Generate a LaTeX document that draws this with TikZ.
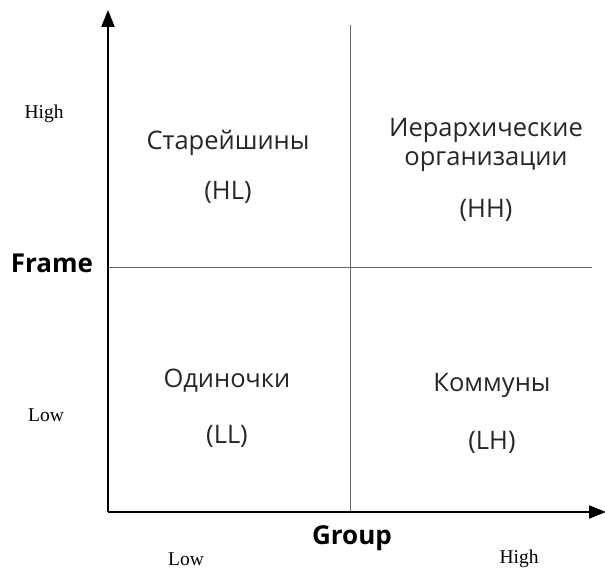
\documentclass[tikz,border=0pt]{standalone}
\usepackage{fontspec}
\usetikzlibrary{arrows.meta}
\newfontfamily\quadfont{Open Sans}
\newfontfamily\levelfont{Liberation Serif}
\begin{document}
\begin{tikzpicture}[x=1pt,y=-1pt,
  axis/.style={draw,line width=2.4pt,-{Triangle[length=17pt,width=13pt]}},
  divider/.style={draw,gray!80!black,line width=0.9pt},
  quad/.style={font=\quadfont\fontsize{25.5}{29}\selectfont,align=center,text=black!85},
  level/.style={font=\levelfont\fontsize{19.5}{22}\selectfont},
  axlabel/.style={font=\quadfont\bfseries\fontsize{26}{28}\selectfont}]
\useasboundingbox (0,0) rectangle (605,569);
\coordinate (o) at (108,512);
\coordinate (ytop) at (108,10);
\coordinate (xend) at (606,512);
\coordinate (mtop) at (350,25);
\coordinate (mbot) at (350,512);
\coordinate (ml) at (108,267);
\coordinate (mr) at (592,267);
\path[divider] (mtop) -- (mbot);
\path[divider] (ml) -- (mr);
\path[axis] (o) -- (ytop);
\path[axis] (o) -- (xend);
\node[level] (yhigh) at (44,114) {High};
\node[level] (ylow) at (46,415) {Low};
\node[level] (xlow) at (186,559) {Low};
\node[level] (xhigh) at (519,559) {High};
\node[axlabel] (frame) at (52,263) {Frame};
\node[axlabel] (group) at (352,538) {Group};
\node[quad] (hl) at (228,143) {Старейшины};
\node[quad] (hlc) at (228,192) {(HL)};
\node[quad] (hh) at (486,145) {Иерархические\\организации};
\node[quad] (hhc) at (486,210) {(HH)};
\node[quad] (ll) at (227,381) {Одиночки};
\node[quad] (llc) at (227,436) {(LL)};
\node[quad] (lh) at (492,385) {Коммуны};
\node[quad] (lhc) at (492,442) {(LH)};
\end{tikzpicture}
\end{document}
